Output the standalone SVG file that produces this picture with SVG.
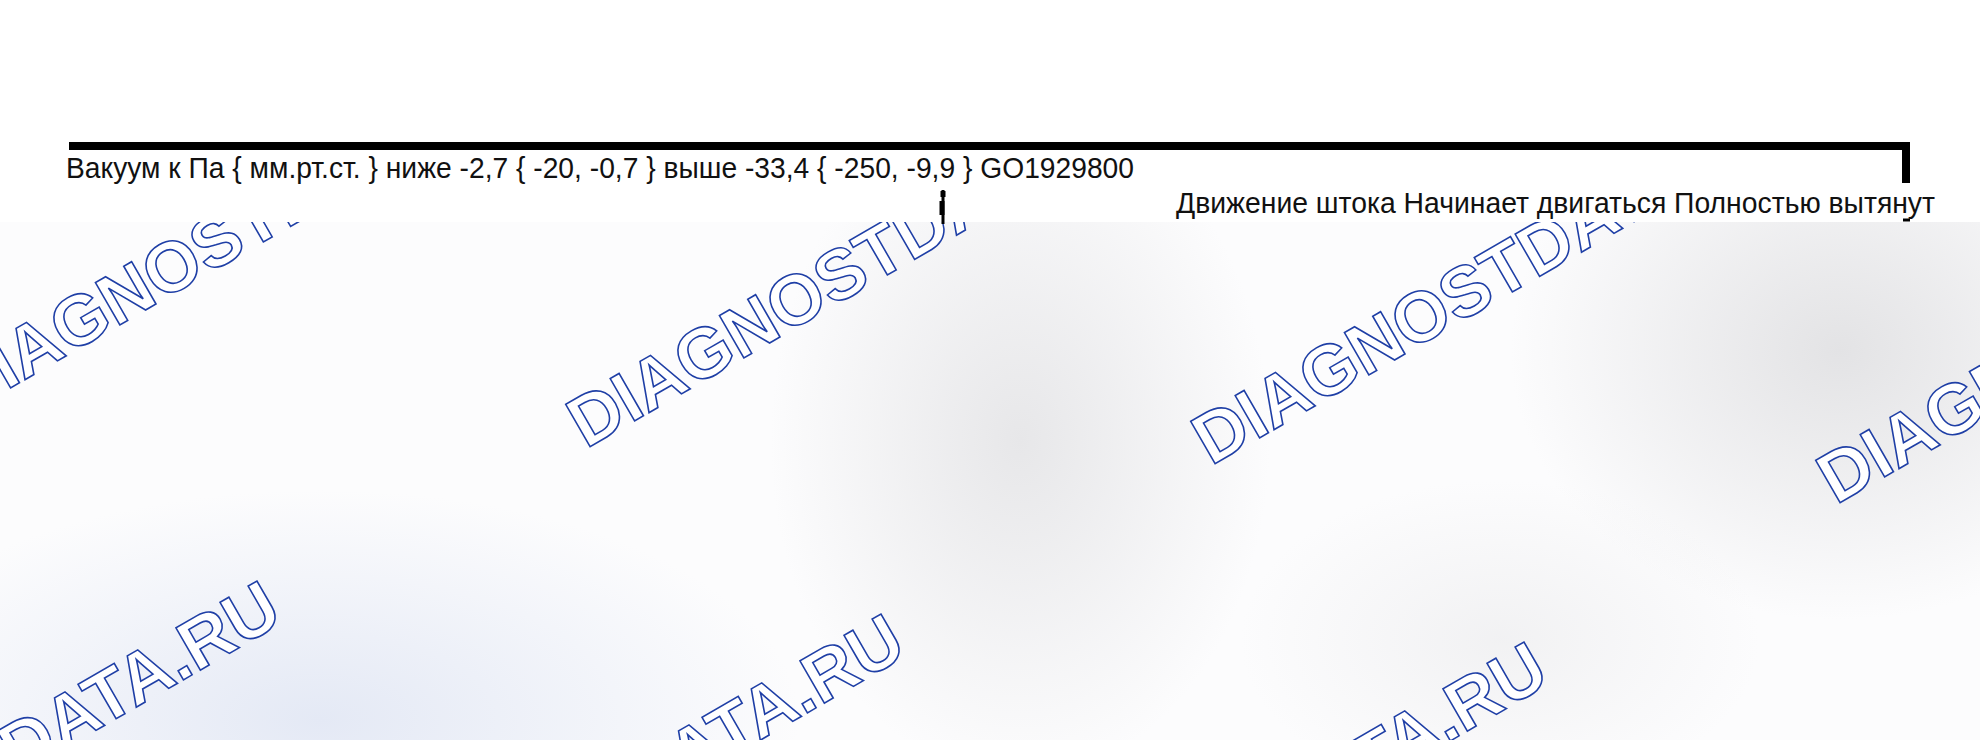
<svg xmlns="http://www.w3.org/2000/svg" width="1980" height="740" viewBox="0 0 1980 740">
  <defs>
    <radialGradient id="gGrey1" cx="0.5" cy="0.5" r="0.5">
      <stop offset="0" stop-color="#e7e7e9" stop-opacity="1"/>
      <stop offset="1" stop-color="#e7e7e9" stop-opacity="0"/>
    </radialGradient>
    <radialGradient id="gGrey2" cx="0.5" cy="0.5" r="0.5">
      <stop offset="0" stop-color="#e3e3e5" stop-opacity="1"/>
      <stop offset="1" stop-color="#e3e3e5" stop-opacity="0"/>
    </radialGradient>
    <radialGradient id="gBlue" cx="0.5" cy="0.5" r="0.5">
      <stop offset="0" stop-color="#e4e9f5" stop-opacity="1"/>
      <stop offset="1" stop-color="#e4e9f5" stop-opacity="0"/>
    </radialGradient>
    <style>
      .wm { font-family: "Liberation Sans", Arial, sans-serif; font-weight: bold; font-size: 71px; fill: #ffffff; stroke: #1f3fa6; stroke-width: 1.6px; }
      .lbl { font-family: "Liberation Sans", Arial, sans-serif; font-size: 29px; fill: #111111; }
    </style>
  </defs>

  <g id="background">
    <rect x="0" y="0" width="1980" height="740" fill="#fcfcfd"/>
    <ellipse cx="1020" cy="440" rx="250" ry="340" fill="url(#gGrey1)"/>
    <ellipse cx="1840" cy="350" rx="330" ry="270" fill="url(#gGrey2)"/>
    <ellipse cx="1500" cy="640" rx="260" ry="160" fill="url(#gGrey1)" opacity="0.5"/>
    <ellipse cx="320" cy="720" rx="480" ry="230" fill="url(#gBlue)"/>
  </g>

  <g id="watermarks">
    <text class="wm" transform="translate(-38,416) rotate(-30)">DIAGNOSTDATA.RU</text>
    <text class="wm" transform="translate(586,449) rotate(-30)">DIAGNOSTDATA.RU</text>
    <text class="wm" transform="translate(1211,466) rotate(-30)">DIAGNOSTDATA.RU</text>
    <text class="wm" transform="translate(1836,505) rotate(-30)">DIAGNOSTDATA.RU</text>
    <text class="wm" transform="translate(-307,963) rotate(-30)">DIAGNOSTDATA.RU</text>
    <text class="wm" transform="translate(317,996) rotate(-30)">DIAGNOSTDATA.RU</text>
    <text class="wm" transform="translate(960,1024) rotate(-30)">DIAGNOSTDATA.RU</text>
  </g>

  <g id="header-band">
    <rect x="0" y="0" width="1980" height="222" fill="#ffffff"/>
  </g>

  <g id="connectors" fill="none" stroke="#000000">
    <polyline points="69,146 1906,146 1906,183" stroke-width="8" stroke-linejoin="miter"/>
    <line x1="943" y1="190" x2="943" y2="224" stroke-width="3"/>
    <line x1="943" y1="191" x2="943" y2="197" stroke-width="5"/>
    <line x1="942" y1="201" x2="942" y2="215" stroke-width="5"/>
    <line x1="1903" y1="220" x2="1910" y2="220" stroke-width="3"/>
  </g>

  <g id="label-vacuum">
    <text class="lbl" x="66" y="178" textLength="1068" lengthAdjust="spacingAndGlyphs">Вакуум к Па { мм.рт.ст. } ниже -2,7 { -20, -0,7 } выше -33,4 { -250, -9,9 } GO1929800</text>
  </g>

  <g id="label-stroke">
    <text class="lbl" x="1176" y="213" textLength="759" lengthAdjust="spacingAndGlyphs">Движение штока Начинает двигаться Полностью вытянут</text>
  </g>
</svg>
